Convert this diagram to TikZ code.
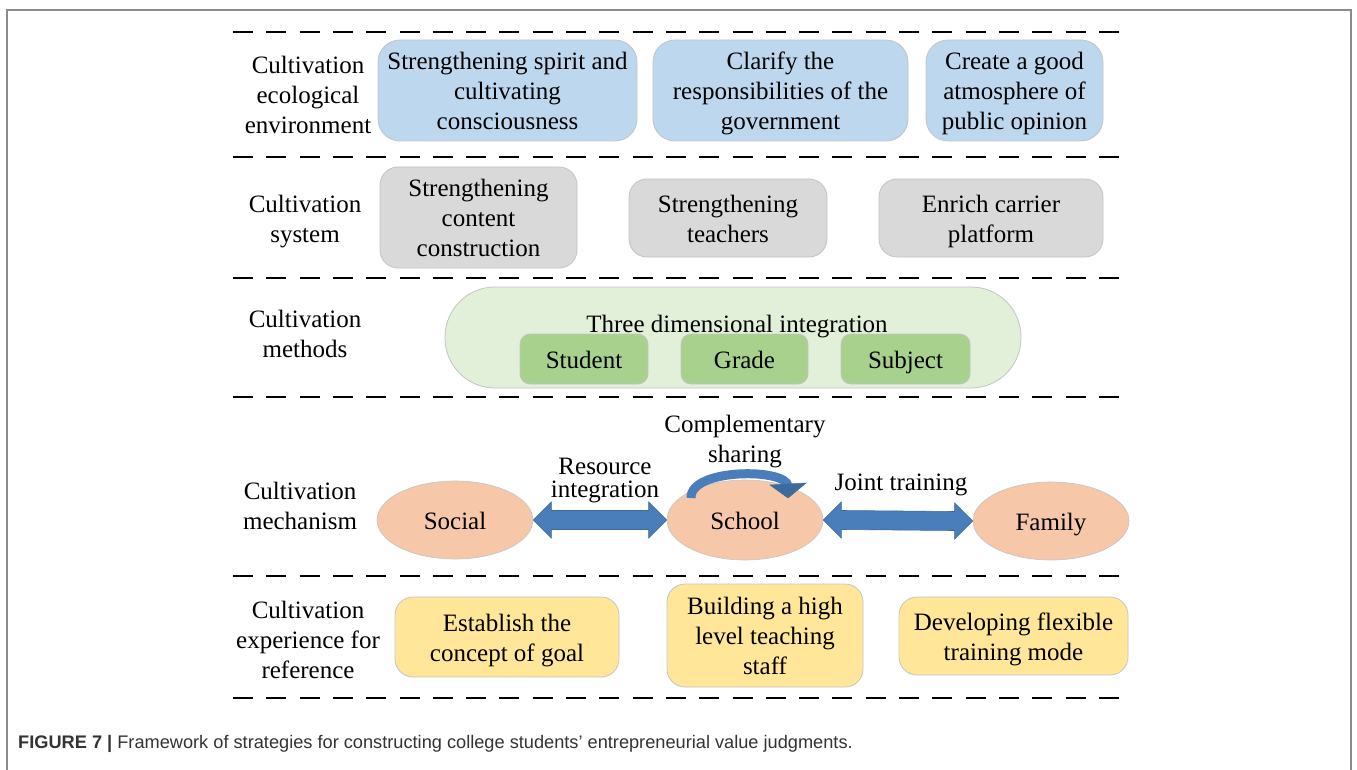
\documentclass[tikz,border=0pt]{standalone}
\usepackage{fontspec}
\setmainfont{Liberation Serif}
\setsansfont{Liberation Sans}
\usetikzlibrary{calc,arrows.meta,shapes.geometric}
\definecolor{blueF}{HTML}{BDD7EE}
\definecolor{grayF}{HTML}{D9D9D9}
\definecolor{greenL}{HTML}{E2F0D9}
\definecolor{greenD}{HTML}{A9D18E}
\definecolor{peach}{HTML}{F6C8A9}
\definecolor{yellowF}{HTML}{FFE699}
\definecolor{bordc}{HTML}{C4C4C4}
\definecolor{arrowB}{HTML}{4A7EBB}
\definecolor{arrowD}{HTML}{3D6A9C}
\definecolor{capc}{HTML}{333333}
\definecolor{framec}{HTML}{8C8C8C}
\newcommand\ms{\rule[-6pt]{0pt}{30pt}}
\begin{document}
\begin{tikzpicture}[x=1pt,y=-1pt,
  txt/.style={align=center, font=\fontsize{25}{30}\selectfont, inner sep=0pt},
  bx/.style={txt, draw=bordc, line width=0.8pt, rounded corners=18pt},
  bluebox/.style={bx, fill=blueF, rounded corners=22pt},
  graybox/.style={bx, fill=grayF},
  yellowbox/.style={bx, fill=yellowF},
  greenbox/.style={bx, fill=greenD, rounded corners=10pt},
  pill/.style={draw=bordc, line width=0.8pt, fill=greenL, rounded corners=50pt},
  oval/.style={txt, ellipse, draw=bordc, line width=0.6pt, fill=peach, minimum width=156pt, minimum height=80pt},
  sep/.style={line width=1.8pt, dash pattern=on 20pt off 13.3pt},
  small/.style={align=center, font=\fontsize{25}{23}\selectfont, inner sep=0pt}
]
\useasboundingbox (0,0) rectangle (1357,770);
\fill[white] (0,0) rectangle (1357,770);
% outer frame
\draw[framec, line width=1.5pt] (7,780) -- (7,10) -- (1351,10) -- (1351,780);

% separators
\foreach \yy in {32,157,278,397,576,698}
  \draw[sep] (233,\yy) -- (1128,\yy);

% Row 1
\node[txt] (l1) at (308,95) {\ms Cultivation\\ecological\\environment\ms};
\node[bluebox, minimum width=259pt, minimum height=101pt] (b11) at (507.5,90.5) {\ms Strengthening spirit and\\cultivating\\consciousness\ms};
\node[bluebox, minimum width=255pt, minimum height=101pt] (b12) at (780.5,90.5) {\ms Clarify the\\responsibilities of the\\government\ms};
\node[bluebox, minimum width=177pt, minimum height=101pt] (b13) at (1014.5,90.5) {\ms Create a good\\atmosphere of\\public opinion\ms};

% Row 2
\node[txt] (l2) at (305,218) {\ms Cultivation\\system\ms};
\node[graybox, minimum width=197pt, minimum height=101pt] (b21) at (478.5,217.5) {\ms Strengthening\\content\\construction\ms};
\node[graybox, minimum width=198pt, minimum height=78pt] (b22) at (728,218) {\ms Strengthening\\teachers\ms};
\node[graybox, minimum width=224pt, minimum height=78pt] (b23) at (991,218) {\ms Enrich carrier\\platform\ms};

% Row 3
\node[txt] (l3) at (305,333) {\ms Cultivation\\methods\ms};
\node[pill, minimum width=576pt, minimum height=101pt] (b3) at (733,337.5) {};
\node[txt] (t3) at (737,323) {\ms Three dimensional integration};
\node[greenbox, minimum width=128pt, minimum height=50pt] (g1) at (584,359) {\ms Student};
\node[greenbox, minimum width=127pt, minimum height=50pt] (g2) at (744.5,359) {\ms Grade};
\node[greenbox, minimum width=129pt, minimum height=50pt] (g3) at (905.5,359) {\ms Subject};

% Row 4
\node[txt] (l4) at (300,505) {\ms Cultivation\\mechanism\ms};
\node[oval, minimum height=78pt] (soc) at (455,520) {\ms Social};
\node[oval] (sch) at (745,520) {\ms School};
\node[oval, minimum height=78pt] (fam) at (1051,521) {\ms Family};

\newcommand\fatarrow[2]{%
  \path (#1.east) coordinate (aL) (#2.west) coordinate (aR);
  \filldraw[fill=arrowB, draw=arrowD, line width=0.6pt, line join=miter]
    (aL) -- ($(aL)+(18,-18)$) -- ($(aL)+(18,-9.5)$) -- ($(aR)+(-18,-9.5)$) -- ($(aR)+(-18,-18)$)
    -- (aR) -- ($(aR)+(-18,18)$) -- ($(aR)+(-18,9.5)$) -- ($(aL)+(18,9.5)$) -- ($(aL)+(18,18)$) -- cycle;}
\fatarrow{soc}{sch}
\fatarrow{sch}{fam}

\node[small] (rl) at (605,481) {Resource\\integration};
\node[txt] (cl) at (745,438) {\ms Complementary\\sharing\ms};
\node[txt] (jl) at (901,481) {\ms Joint training};

% curved arrow on School
\draw[arrowB, line width=9pt] (691,498) .. controls (690,468) and (786,468) .. (788,486);
\filldraw[fill=arrowD, draw=arrowD, line width=0.5pt, line join=miter] (770,485) -- (806,483) -- (788,498) -- cycle;

% Row 5
\node[txt] (l5) at (308,639) {\ms Cultivation\\experience for\\reference\ms};
\node[yellowbox, minimum width=224pt, minimum height=80pt] (y1) at (507,637) {\ms Establish the\\concept of goal\ms};
\node[yellowbox, minimum width=196pt, minimum height=103pt] (y2) at (765,635.5) {\ms Building a high\\level teaching\\staff\ms};
\node[yellowbox, minimum width=229pt, minimum height=78pt] (y3) at (1013.5,636) {\ms Developing flexible\\training mode\ms};

% caption
\node[anchor=base west, inner sep=0pt, text=capc, font=\sffamily\fontsize{18.2}{22}\selectfont] (cap) at (18,748)
  {\textbf{FIGURE 7 |} Framework of strategies for constructing college students’ entrepreneurial value judgments.};
\end{tikzpicture}
\end{document}
